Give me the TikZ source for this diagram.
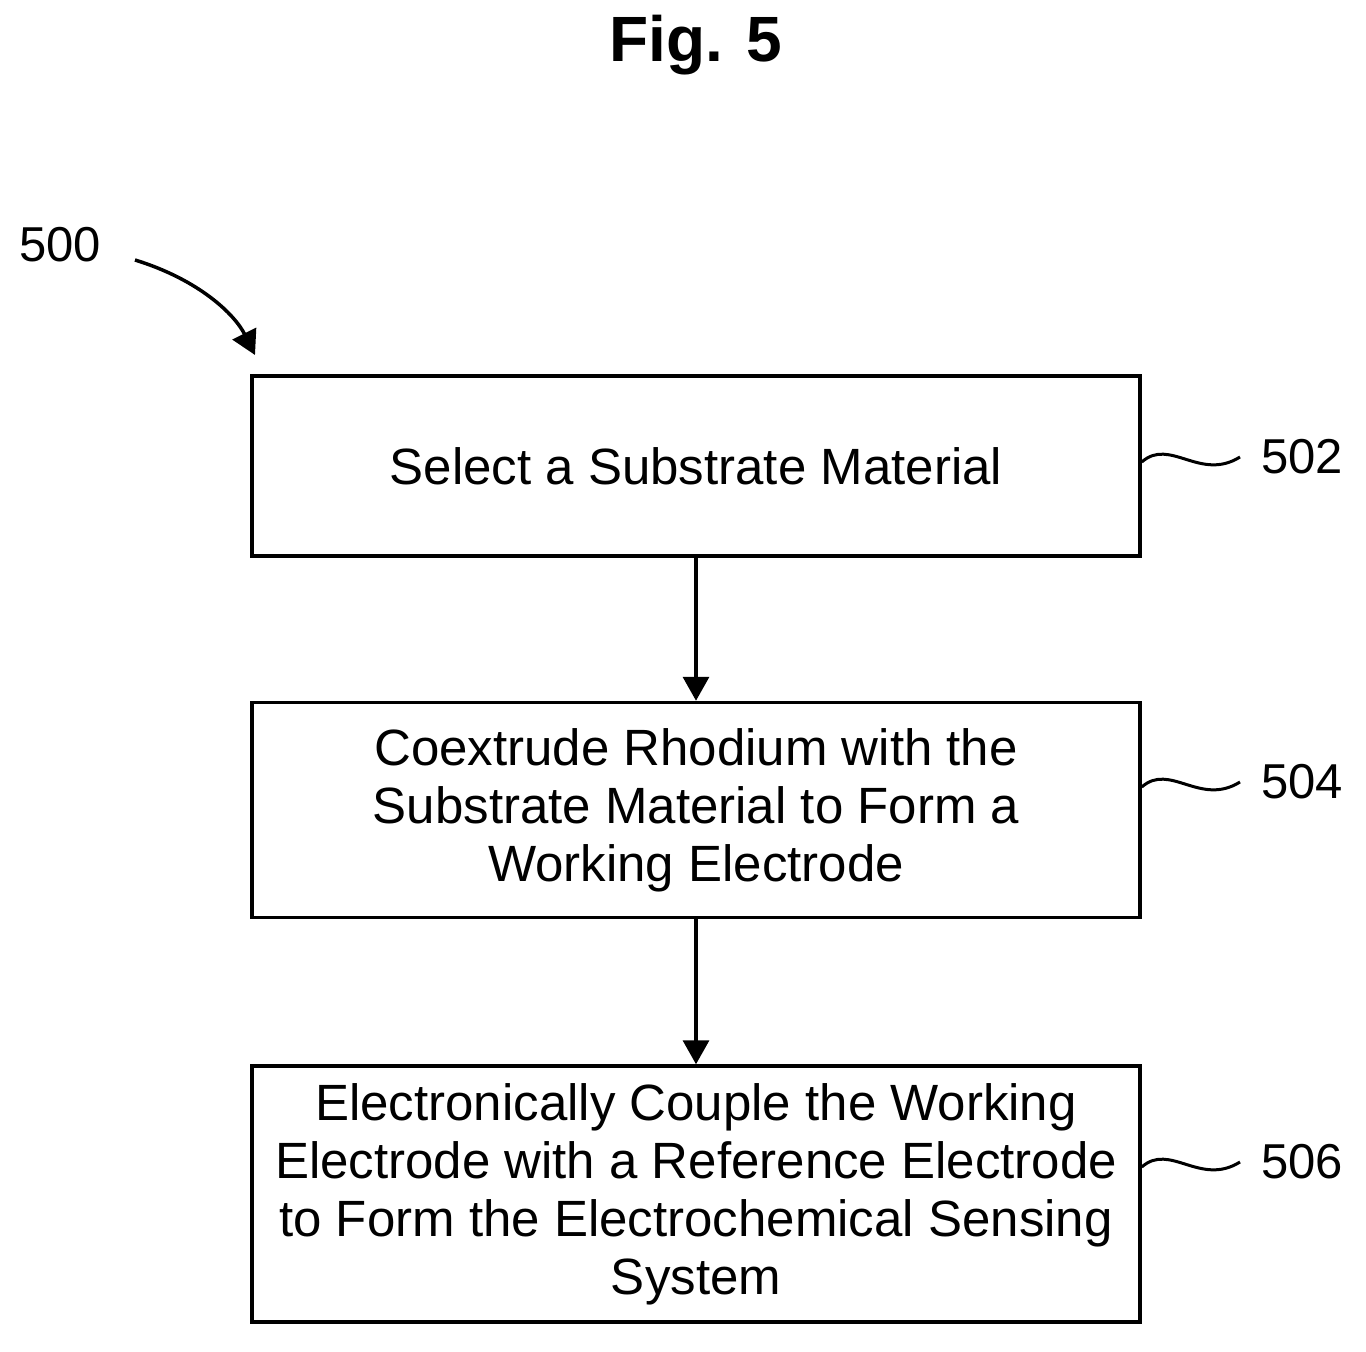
\documentclass[tikz,border=0pt]{standalone}
\usepackage{fontspec}
\setmainfont{Liberation Sans}
\usetikzlibrary{arrows.meta}
\begin{document}
\begin{tikzpicture}[x=1pt,y=-1pt,
  box/.style={draw,line width=3.5pt,minimum width=888pt,align=center,inner sep=0pt,
    font=\fontsize{51}{58}\selectfont},
  arr/.style={line width=3.5pt,-{Triangle[length=24pt,width=26pt]}},
  lab/.style={font=\fontsize{49}{52}\selectfont}]
\useasboundingbox (0,0) rectangle (1366,1352);
\node[font=\fontsize{64}{70}\selectfont\bfseries] (t) at (696,45) {Fig. 5};
\node[box,minimum height=180pt] (b1) at (696,466) {Select a Substrate Material};
\node[box,minimum height=215pt] (b2) at (696,810) {Coextrude Rhodium with the\\Substrate Material to Form a\\Working Electrode};
\node[box,minimum height=256pt] (b3) at (696,1194) {Electronically Couple the Working\\Electrode with a Reference Electrode\\to Form the Electrochemical Sensing\\System};
\draw[arr] (b1) -- (b2);
\draw[arr] (b2) -- (b3);
\node[lab] (l0) at (60,245) {500};
\coordinate (s0) at (135,260);
\coordinate (e0) at (255,355);
\draw[arr] (s0) .. controls (200,280) and (235,315) .. (e0);
\foreach \n/\y/\t in {1/462/502,2/787/504,3/1167/506}{
  \node[lab] (l\n) at (1302,\y-5) {\t};
  \draw[line width=3pt] (b\n.east |- 0,\y) .. controls (1170,\y-25) and (1200,\y+20) .. (1240,\y-5);
}
\end{tikzpicture}
\end{document}
